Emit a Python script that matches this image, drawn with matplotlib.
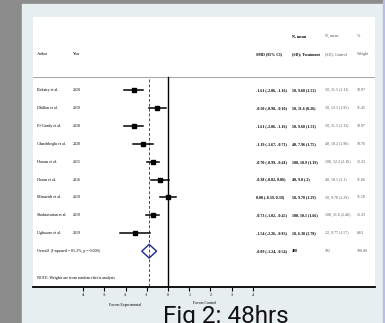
import numpy as np
import matplotlib.pyplot as plt
from matplotlib.patches import Rectangle, Polygon

# study data (SMD, 95% CI, group summaries, weights)
authors = ["Bekairy et al.", "Dhillon et al.", "El-Gendy et al.", "Gharehbeglu et al.",
           "Hassan et al.", "Hosan et al.", "Mirsaeidi et al.", "Shahsavarian et al.",
           "Ughasoro et al."]
years = ["2020", "2019", "2018", "2020", "2015", "2016", "2019", "2019", "2019"]
smd = [-1.61, -0.50, -1.61, -1.19, -0.70, -0.38, 0.00, -0.73, -1.54]
lo = [-2.06, -0.90, -2.06, -1.67, -0.99, -0.82, -0.39, -1.02, -2.26]
hi = [-1.16, -0.10, -1.16, -0.71, -0.41, 0.06, 0.39, -0.45, -0.83]
treat = ["50, 9.68 (1.53)", "50, 11.6 (0.26)", "50, 9.68 (1.53)", "40, 7.96 (1.75)",
         "100, 10.9 (1.19)", "40, 9.8 (.2)", "50, 9.78 (1.29)", "100, 10.1 (1.66)",
         "18, 6.38 (2.78)"]
ctrl = ["50, 11.5 (1.13)", "50, 13.1 (1.95)", "50, 11.5 (1.13)", "40, 10.2 (1.96)",
        "100, 12.2 (2.16)", "40, 10.1 (1.1)", "50, 9.78 (1.29)", "100, 11.6 (2.46)",
        "22, 9.77 (1.57)"]
weights = [10.97, 11.45, 10.97, 10.76, 12.33, 11.66, 11.50, 12.33, 8.63]
overall = -0.89
overall_lo, overall_hi = -1.24, -0.54
overall_label = "Overall  (I-squared = 85.2%, p = 0.000)"
overall_n = ["498", "502", "100.00"]
ticks = [-4, -3, -2, -1, 0, 1, 2, 3, 4]

W, H = 385, 323
fig = plt.figure(figsize=(W / 100, H / 100), dpi=100)
fig.patch.set_facecolor("#8c8c8c")

def px(x0, y0, x1, y1):
    return [x0 / W, 1 - y1 / H, (x1 - x0) / W, (y1 - y0) / H]

# screenshot framing
l, b, w, h = px(22, 4, 383, 323)
fig.add_artist(Rectangle((l, b), w, h, transform=fig.transFigure, color="#e7eef0", zorder=0))
l, b, w, h = px(383, 0, 385, 323)
fig.add_artist(Rectangle((l, b), w, h, transform=fig.transFigure, color="#b9bde6", zorder=0))

ax = fig.add_axes(px(33, 17, 375, 287))
ax.set_facecolor("white")
ax.set_xlim(-6.37, 9.76)
ax.set_ylim(11.0, -4.08)
for s in ["top", "left", "right"]:
    ax.spines[s].set_visible(False)
ax.spines["bottom"].set_linewidth(1.3)
ax.set_yticks([])
ax.set_xticks(ticks)
ax.set_xticklabels([str(t) for t in ticks], fontsize=3, family="Liberation Serif")
ax.tick_params(axis="x", length=3, width=0.8, pad=1.5)

serif = "Liberation Serif"
fs = 2.9
grey = "#555555"
x_auth, x_year = -6.18, -4.48
x_smd, x_tr, x_ct, x_wt = 4.15, 5.85, 7.4, 8.9

# header
ax.axhline(-0.73, color="#aaaaaa", lw=0.8)
ax.text(x_auth, -2.0, "Author", fontsize=fs, family=serif, va="center")
ax.text(x_year, -2.0, "Year", fontsize=fs, family=serif, va="center")
ax.text(x_smd, -2.0, "SMD (95% CI)", fontsize=fs, family=serif, va="center", weight="bold")
ax.text(x_tr, -3.0, "N, mean", fontsize=fs, family=serif, va="center", weight="bold")
ax.text(x_tr, -2.0, "(SD); Treatment", fontsize=fs, family=serif, va="center", weight="bold")
ax.text(x_ct, -3.0, "N, mean", fontsize=fs, family=serif, va="center", color=grey)
ax.text(x_ct, -2.0, "(SD); Control", fontsize=fs, family=serif, va="center", color=grey)
ax.text(x_wt, -3.0, "%", fontsize=fs, family=serif, va="center", color=grey)
ax.text(x_wt, -2.0, "Weight", fontsize=fs, family=serif, va="center", color=grey)

# reference lines
ax.plot([0, 0], [-0.73, 11.0], color="black", lw=1.0)
ax.plot([overall, overall], [-0.6, 11.0], color="#9b2a2a", lw=0.7, ls=(0, (3, 2)))

rows = np.arange(len(authors))
for i in rows:
    ax.plot([lo[i], hi[i]], [i, i], color="black", lw=1.1)
    ax.plot(smd[i], i, marker="s", color="black", ms=3.0 * np.sqrt(weights[i] / 11))
    ax.text(x_auth, i, authors[i], fontsize=fs, family=serif, va="center")
    ax.text(x_year, i, years[i], fontsize=fs, family=serif, va="center")
    ax.text(x_smd, i, f"{smd[i]:.2f} ({lo[i]:.2f}, {hi[i]:.2f})", fontsize=fs,
            family=serif, va="center", weight="bold")
    ax.text(x_tr, i, treat[i], fontsize=fs, family=serif, va="center", weight="bold")
    ax.text(x_ct, i, ctrl[i], fontsize=fs, family=serif, va="center", color=grey)
    ax.text(x_wt, i, f"{weights[i]:.2f}", fontsize=fs, family=serif, va="center", color=grey)

yo = len(authors)
ax.add_patch(Polygon([[overall_lo, yo], [overall, yo - 0.38], [overall_hi, yo], [overall, yo + 0.38]],
                     closed=True, fill=False, edgecolor="#1f2a8a", lw=1.0))
ax.text(x_auth, yo, overall_label, fontsize=fs, family=serif, va="center")
ax.text(x_smd, yo, f"{overall:.2f} ({overall_lo:.2f}, {overall_hi:.2f})", fontsize=fs,
        family=serif, va="center", weight="bold")
ax.text(x_tr, yo, overall_n[0], fontsize=fs, family=serif, va="center", weight="bold")
ax.text(x_ct, yo, overall_n[1], fontsize=fs, family=serif, va="center", color=grey)
ax.text(x_wt, yo, overall_n[2], fontsize=fs, family=serif, va="center", color=grey)
ax.text(x_auth, 10.5, "NOTE: Weights are from random effects analysis", fontsize=fs,
        family=serif, va="center")

# favours labels below axis
fig.text(125 / W, 1 - 305 / H, "Favors Experimental", fontsize=2.8, family=serif, ha="center", va="center")
fig.text(205 / W, 1 - 303 / H, "Favors Control", fontsize=2.8, family=serif, ha="center", va="center")

fig.text(226 / W, 1 - 323 / H, "Fig 2: 48hrs", fontsize=17.5, family="Roboto", ha="center",
         va="baseline", color="#111111")

fig.savefig("out.png", dpi=100, facecolor=fig.get_facecolor())
